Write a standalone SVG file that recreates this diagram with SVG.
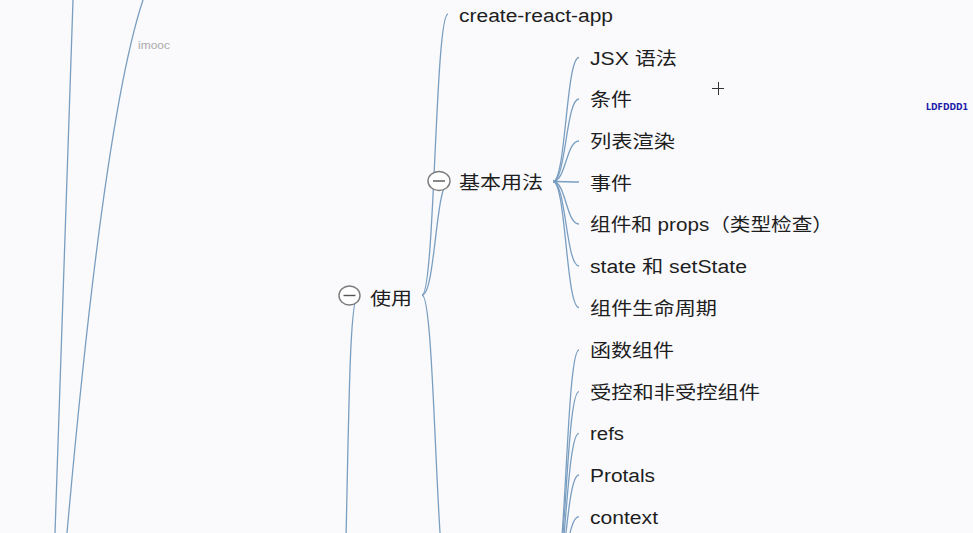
<svg xmlns="http://www.w3.org/2000/svg" width="973" height="533" viewBox="0 0 973 533">
<style>
.bg{fill:#fafafd}
.ln{fill:none;stroke:#7a9ec0;stroke-width:1.3}
.t{font-family:"Liberation Sans","Noto Sans CJK SC",sans-serif;font-size:18px;fill:#1e1e1e}
.exp{fill:#fff;stroke:#7b7b7b;stroke-width:1.4}
.minus{stroke:#555;stroke-width:1.4}
</style>
<rect class="bg" x="0" y="0" width="973" height="533"/>
<g id="connectors">
<path class="ln" d="M73 0 Q65 260 55 533"/>
<path class="ln" d="M143 0 Q104 117 67 533"/>
<path class="ln" d="M346 540 C349 400 350 296 358 296"/>
<path class="ln" d="M422 295 C435 295 435 14 448 14"/>
<path class="ln" d="M422 295 C435.5 295 435.5 181.5 449 181.5"/>
<path class="ln" d="M422 295 C435.5 295 435.5 594 449 594"/>
<path class="ln" d="M553 181.5 C566 181.5 566 57.5 579 57.5"/>
<path class="ln" d="M553 181.5 C566 181.5 566 99 579 99"/>
<path class="ln" d="M553 181.5 C566 181.5 566 141 579 141"/>
<path class="ln" d="M553 181.5 C566 181.5 566 182 579 182"/>
<path class="ln" d="M553 181.5 C566 181.5 566 224 579 224"/>
<path class="ln" d="M553 181.5 C566 181.5 566 266 579 266"/>
<path class="ln" d="M553 181.5 C566 181.5 566 307.5 579 307.5"/>
<path class="ln" d="M553 590 C566 590 566 350 579 350"/>
<path class="ln" d="M553 590 C566 590 566 391.7 579 391.7"/>
<path class="ln" d="M553 590 C566 590 566 433.3 579 433.3"/>
<path class="ln" d="M553 590 C566 590 566 475 579 475"/>
<path class="ln" d="M553 590 C566 590 566 516.7 579 516.7"/>
</g>
<g id="imooc"><text x="138" y="49" textLength="32" lengthAdjust="spacingAndGlyphs" style="font-family:'Liberation Sans',sans-serif;font-size:11px;fill:#aaa">imooc</text></g>
<g id="node-use">
<ellipse class="exp" cx="349.5" cy="295.5" rx="10.5" ry="9.5"/>
<line class="minus" x1="343.5" y1="295.5" x2="355.5" y2="295.5"/>
<text class="t" x="370" y="304.5" textLength="42" lengthAdjust="spacingAndGlyphs">使用</text>
</g>
<g id="node-cra"><text class="t" x="459" y="22" textLength="154" lengthAdjust="spacingAndGlyphs">create-react-app</text></g>
<g id="node-basic">
<ellipse class="exp" cx="439" cy="181" rx="11" ry="9.5"/>
<line class="minus" x1="433" y1="181" x2="445" y2="181"/>
<text class="t" x="459" y="189" textLength="84" lengthAdjust="spacingAndGlyphs">基本用法</text>
</g>
<g id="node-jsx"><text class="t" x="590" y="64.5" textLength="87" lengthAdjust="spacingAndGlyphs">JSX 语法</text></g>
<g id="node-cond"><text class="t" x="590" y="106" textLength="42" lengthAdjust="spacingAndGlyphs">条件</text></g>
<g id="node-list"><text class="t" x="590" y="148" textLength="85" lengthAdjust="spacingAndGlyphs">列表渲染</text></g>
<g id="node-event"><text class="t" x="590" y="189.5" textLength="42" lengthAdjust="spacingAndGlyphs">事件</text></g>
<g id="node-props"><text class="t" x="590" y="231" textLength="243" lengthAdjust="spacingAndGlyphs">组件和 props（类型检查）</text></g>
<g id="node-state"><text class="t" x="590" y="273" textLength="157" lengthAdjust="spacingAndGlyphs">state 和 setState</text></g>
<g id="node-life"><text class="t" x="590" y="314.5" textLength="127" lengthAdjust="spacingAndGlyphs">组件生命周期</text></g>
<g id="node-func"><text class="t" x="590" y="357" textLength="84" lengthAdjust="spacingAndGlyphs">函数组件</text></g>
<g id="node-ctrl"><text class="t" x="590" y="398.7" textLength="170" lengthAdjust="spacingAndGlyphs">受控和非受控组件</text></g>
<g id="node-refs"><text class="t" x="590" y="440.3" textLength="34" lengthAdjust="spacingAndGlyphs">refs</text></g>
<g id="node-portals"><text class="t" x="590" y="482" textLength="65" lengthAdjust="spacingAndGlyphs">Protals</text></g>
<g id="node-context"><text class="t" x="590" y="523.7" textLength="68" lengthAdjust="spacingAndGlyphs">context</text></g>
<g id="watermark"><text x="926" y="109.5" textLength="42" lengthAdjust="spacingAndGlyphs" style="font-family:'DejaVu Sans',sans-serif;font-size:9px;font-weight:bold;fill:#1c1ca8">LDFDDD1</text></g>
<g id="cursor" stroke="#333" stroke-width="1">
<line x1="712" y1="88.5" x2="724" y2="88.5"/>
<line x1="718.5" y1="82" x2="718.5" y2="95"/>
</g>
</svg>
